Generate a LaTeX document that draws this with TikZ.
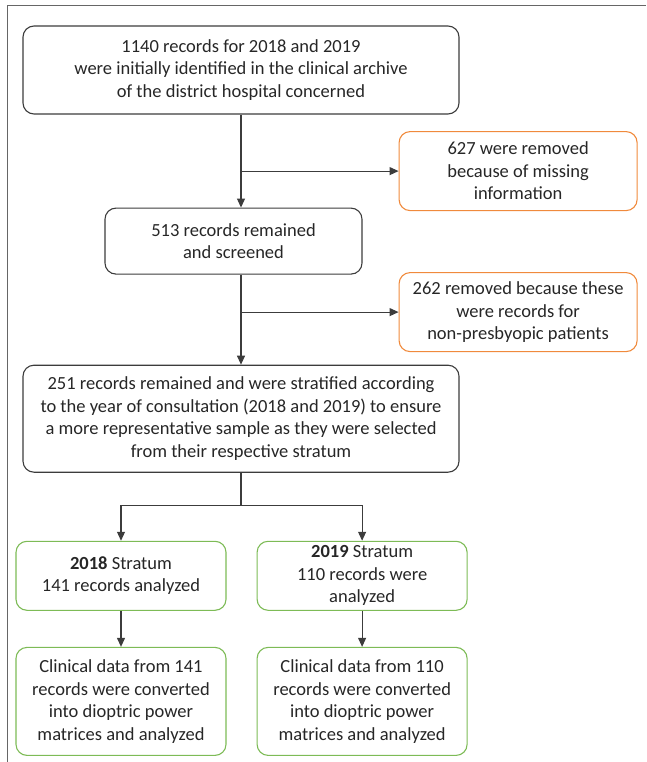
\documentclass[tikz,border=0pt]{standalone}
\usepackage{fontspec}
\setmainfont{Carlito}
\usetikzlibrary{arrows.meta, positioning}
\definecolor{edgegray}{HTML}{3C3C3C}
\definecolor{rmorange}{HTML}{F08A3C}
\definecolor{stgreen}{HTML}{7DBB56}

\begin{document}
\begin{tikzpicture}[
  x=1pt, y=1pt,
  box/.style = {draw, line width=1.1pt, rounded corners=11pt, align=center, inner sep=2pt, font=\fontsize{18.5}{22.5}\selectfont, text=black!85},
  block/.style = {box, draw=edgegray},
  removed/.style = {box, draw=rmorange, minimum width=238pt, minimum height=79pt},
  stratum/.style = {box, draw=stgreen, minimum width=210pt},
  line/.style = {line width=1.1pt, draw=edgegray, -{Triangle[length=9pt, width=8pt]}},
  link/.style = {line width=1.1pt, draw=edgegray}
]
  \useasboundingbox (0,0) rectangle (646,-762);

  % Frame
  \draw[gray!80!black, line width=1pt] (646,-6) -- (7.5,-6) -- (7.5,-762);

  % Nodes
  \node[block, minimum width=436pt, minimum height=88pt] (archive) at (241,-70) {1140 records for 2018 and 2019\\were initially identified in the clinical archive\\of the district hospital concerned};
  \node[block, minimum width=257pt, minimum height=66pt, below=93pt of archive, xshift=-7.5pt] (screened) {513 records remained\\and screened};
  \node[removed, right=36pt of screened, yshift=70pt] (missing) {627 were removed\\because of missing\\information};
  \node[removed, right=36pt of screened, yshift=-71pt] (nonpresb) {262 removed because these\\were records for\\non-presbyopic patients};
  \node[block, minimum width=436pt, minimum height=107pt, below=90pt of screened, xshift=7.5pt] (stratified) {251 records remained and were stratified according\\to the year of consultation (2018 and 2019) to ensure\\a more representative sample as they were selected\\from their respective stratum};
  \node[stratum, minimum height=69pt, below=68pt of stratified, xshift=-120pt] (s2018) {\textbf{2018} Stratum\\141 records analyzed};
  \node[stratum, minimum height=69pt, right=30pt of s2018] (s2019) {\textbf{2019} Stratum\\110 records were\\analyzed};
  \node[stratum, minimum height=108pt, below=36pt of s2018] (c2018) {Clinical data from 141\\records were converted\\into dioptric power\\matrices and analyzed};
  \node[stratum, minimum height=108pt, below=36pt of s2019] (c2019) {Clinical data from 110\\records were converted\\into dioptric power\\matrices and analyzed};

  % Connections
  \draw[line] (archive.south) -- (archive.south |- screened.north);
  \draw[line] (archive.south |- missing.west) -- (missing.west);
  \draw[line] (archive.south |- screened.south) -- (stratified.north);
  \draw[line] (archive.south |- nonpresb.west) -- (nonpresb.west);

  % Split into the two strata
  \draw[link] (stratified.south) -- ++(0,-33) coordinate (split);
  \draw[line] (split) -| (s2018.north);
  \draw[line] (split) -| (s2019.north);
  \draw[line] (s2018.south) -- (c2018.north);
  \draw[line] (s2019.south) -- (c2019.north);

\end{tikzpicture}
\end{document}
